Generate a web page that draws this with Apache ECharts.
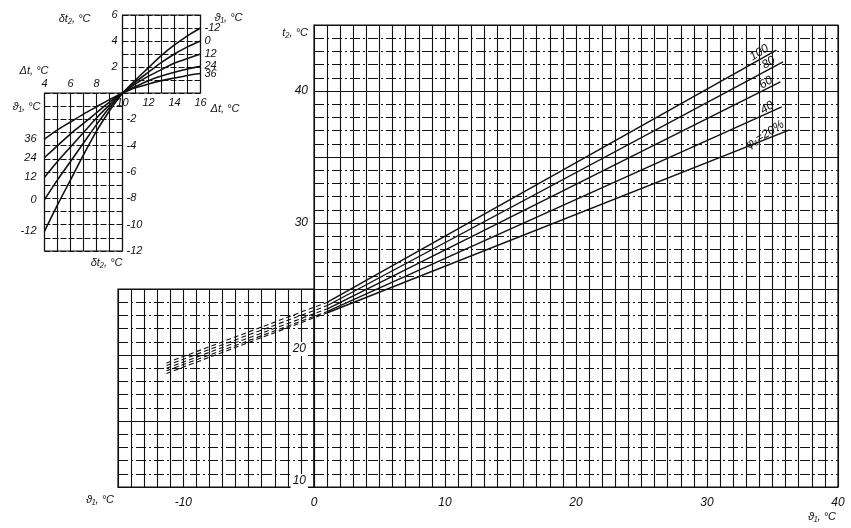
<!DOCTYPE html>
<html>
<head>
<meta charset="utf-8">
<script src="https://cdn.jsdelivr.net/npm/echarts@6/dist/echarts.min.js"></script>
<style>html,body{margin:0;padding:0;background:#fff}#c{width:851px;height:528px}</style>
</head>
<body>
<div id="c"></div>
<script>
// ---- main chart data: t2 vs theta1 for phi1 ----
const phiLabels = ['100', '80', '60', '40', 'φ₁=20%'];
const thetaDashStart = [-11.3, -11.3, -11.3, -11.3, -11.3];
const t2DashStart = [19.4, 19.2, 19.0, 18.8, 18.6];
const thetaBreak = [1.0, 1.0, 1.0, 1.0, 1.0];
const t2Break = [24.0, 23.75, 23.5, 23.3, 23.2];
const thetaEnd = [35.3, 35.8, 35.6, 35.7, 36.3];
const t2End = [43.1, 42.2, 40.7, 38.8, 37.05];
const mainXTicks = [-10, 0, 10, 20, 30, 40];
const mainYTicks = [10, 20, 30, 40];

// ---- inset, upper box: delta t vs Delta t ----
const upperDt = [10, 11, 12, 13, 14, 15, 16];
const upperCurveNames = ['-12', '0', '12', '24', '36'];
const upperM12 = [0, 1.0, 1.95, 2.9, 3.7, 4.4, 5.0];
const upper0 = [0, 0.85, 1.6, 2.35, 3.0, 3.55, 4.0];
const upper12 = [0, 0.7, 1.3, 1.8, 2.3, 2.65, 3.0];
const upper24 = [0, 0.5, 0.95, 1.3, 1.6, 1.85, 2.05];
const upper36 = [0, 0.4, 0.7, 0.95, 1.15, 1.35, 1.5];
const upperXTicks = [10, 12, 14, 16];
const upperYTicks = [2, 4, 6];

// ---- inset, lower box: delta t2 vs Delta t ----
const lowerDt = [4, 5, 6, 7, 8, 9, 10];
const lowerCurveNames = ['-12', '0', '12', '24', '36'];
const lowerM12 = [-10.5, -8.5, -6.6, -4.7, -2.9, -1.35, 0];
const lower0 = [-8.1, -6.6, -5.2, -3.8, -2.4, -1.1, 0];
const lower12 = [-6.4, -5.2, -4.1, -3.0, -1.9, -0.9, 0];
const lower24 = [-4.9, -4.0, -3.1, -2.3, -1.5, -0.7, 0];
const lower36 = [-3.5, -2.8, -2.2, -1.6, -1.05, -0.5, 0];
const lowerXTicks = [4, 6, 8];
const lowerYTicks = [-2, -4, -6, -8, -10, -12];

const FONT = 'Liberation Sans';
const INK = '#111';
const lab = (extra) => Object.assign({color: INK, fontFamily: FONT, fontStyle: 'italic', fontSize: 12}, extra || {});
const gridV = {show: true, lineStyle: {color: INK, width: 1.1, type: 'solid'}};
const noTick = {show: false};
const dashH = [10, 3, 2, 3];

const upperSets = [upperM12, upper0, upper12, upper24, upper36];
const lowerSets = [lowerM12, lower0, lower12, lower24, lower36];
const mainLabelOffsets = [[-6, -1], [-6, -1], [-6, -1], [-6, -1], [-2, -3]];

const series = [];
phiLabels.forEach((p, i) => {
  series.push({
    type: 'line', xAxisIndex: 2, yAxisIndex: 2, showSymbol: false, silent: true,
    lineStyle: {color: INK, width: 1.1, type: [5, 3]},
    data: [[thetaDashStart[i], t2DashStart[i]], [thetaBreak[i], t2Break[i]]]
  });
  series.push({
    type: 'line', xAxisIndex: 2, yAxisIndex: 2, showSymbol: false, silent: true,
    lineStyle: {color: INK, width: 1.4},
    data: [[thetaBreak[i], t2Break[i]], [thetaEnd[i], t2End[i]]],
    endLabel: Object.assign({show: true, formatter: p, rotate: 32, align: 'right', verticalAlign: 'bottom', offset: mainLabelOffsets[i], distance: 0}, lab({fontSize: 12}))
  });
});
upperSets.forEach((arr, i) => {
  series.push({
    type: 'line', xAxisIndex: 3, yAxisIndex: 3, showSymbol: false, smooth: 0.3, silent: true,
    lineStyle: {color: INK, width: 1.6},
    data: upperDt.map((x, k) => [x, arr[k]]),
    endLabel: Object.assign({show: true, formatter: upperCurveNames[i], distance: 4}, lab({fontSize: 11}))
  });
});
lowerSets.forEach((arr, i) => {
  series.push({
    type: 'line', xAxisIndex: 4, yAxisIndex: 5, showSymbol: false, smooth: 0.3, silent: true,
    lineStyle: {color: INK, width: 1.6},
    data: lowerDt.map((x, k) => [x, arr[k]]).reverse(),
    endLabel: Object.assign({show: true, formatter: lowerCurveNames[i], align: 'right', offset: [-8, 0], distance: 0}, lab({fontSize: 11}))
  });
});

const option = {
  animation: false,
  backgroundColor: '#fff',
  grid: [
    {left: 314, top: 25, width: 524, height: 462, show: true, borderColor: INK, borderWidth: 1.2, containLabel: false, outerBoundsMode: 'none'},
    {left: 118, top: 289, width: 196, height: 198, show: true, borderColor: INK, borderWidth: 1.2, containLabel: false, outerBoundsMode: 'none'},
    {left: 118, top: 25, width: 720, height: 462, containLabel: false, outerBoundsMode: 'none'},
    {left: 122.5, top: 15, width: 78, height: 78, show: true, borderColor: INK, borderWidth: 1.2, containLabel: false, outerBoundsMode: 'none'},
    {left: 44.5, top: 93, width: 78, height: 158, show: true, borderColor: INK, borderWidth: 1.2, containLabel: false, outerBoundsMode: 'none'}
  ],
  xAxis: [
    {gridIndex: 0, type: 'value', min: 0, max: 40, interval: 1, axisLine: {lineStyle: {color: INK}}, axisTick: noTick, splitLine: gridV,
      axisLabel: Object.assign({margin: 10, formatter: v => mainXTicks.includes(v) ? String(v) : ''}, lab()),
      name: 'ϑ₁, °C', nameLocation: 'end', nameGap: 0, nameTextStyle: lab({fontSize: 11, align: 'right', verticalAlign: 'top', padding: [24, 2, 0, 0]})},
    {gridIndex: 1, type: 'value', min: -15, max: 0, interval: 1, axisLine: {lineStyle: {color: INK}}, axisTick: noTick, splitLine: gridV,
      axisLabel: Object.assign({margin: 10, formatter: v => (v < 0 && mainXTicks.includes(v)) ? String(v) : ''}, lab()),
      name: 'ϑ₁, °C', nameLocation: 'start', nameGap: 4, nameTextStyle: lab({fontSize: 11, align: 'right', verticalAlign: 'top', padding: [7, 0, 0, 0]})},
    {gridIndex: 2, type: 'value', min: -15, max: 40, show: false},
    {gridIndex: 3, type: 'value', min: 10, max: 16, interval: 1, axisLine: {show: false}, axisTick: noTick, splitLine: gridV,
      axisLabel: Object.assign({margin: 4, formatter: v => upperXTicks.includes(v) ? String(v) : ''}, lab({fontSize: 11})),
      name: 'Δt, °C', nameLocation: 'end', nameGap: 0, nameTextStyle: lab({fontSize: 11, align: 'left', verticalAlign: 'top', padding: [10, 0, 0, 4]})},
    {gridIndex: 4, type: 'value', position: 'top', min: 4, max: 10, interval: 1, axisLine: {show: false}, axisTick: noTick, splitLine: gridV,
      axisLabel: Object.assign({margin: 4, formatter: v => lowerXTicks.includes(v) ? String(v) : ''}, lab({fontSize: 11})),
      name: 'Δt, °C', nameLocation: 'start', nameGap: -4, nameTextStyle: lab({fontSize: 11, align: 'right', verticalAlign: 'bottom', padding: [0, 0, 17, 0]})}
  ],
  yAxis: [
    {gridIndex: 0, type: 'value', min: 10, max: 45, interval: 5, z: 6, axisLine: {lineStyle: {color: INK}}, axisTick: noTick,
      splitLine: {show: true, lineStyle: {color: INK, width: 1.1}},
      minorTick: {show: false, splitNumber: 5},
      minorSplitLine: {show: true, lineStyle: {color: INK, width: 1, type: dashH}},
      axisLabel: Object.assign({margin: 6, formatter: v => !mainYTicks.includes(v) ? '' : (v <= 20 ? '{b|' + v + '}\n{s|}' : String(v)),
        rich: {b: lab({backgroundColor: '#fff', padding: [1, 2, 1, 2]}), s: {height: 12}}}, lab()),
      name: 't₂, °C', nameLocation: 'end', nameGap: -2, nameTextStyle: lab({fontSize: 11, align: 'right', verticalAlign: 'top', padding: [0, 6, 0, 0]})},
    {gridIndex: 1, type: 'value', min: 10, max: 25, interval: 5, axisLine: {show: false}, axisTick: noTick, axisLabel: {show: false},
      splitLine: {show: true, lineStyle: {color: INK, width: 1.1}},
      minorTick: {show: false, splitNumber: 5},
      minorSplitLine: {show: true, lineStyle: {color: INK, width: 1, type: dashH}}},
    {gridIndex: 2, type: 'value', min: 10, max: 45, show: false},
    {gridIndex: 3, type: 'value', min: 0, max: 6, interval: 1, axisLine: {show: false}, axisTick: noTick,
      splitLine: {show: true, lineStyle: {color: INK, width: 1, type: [6, 2]}},
      axisLabel: Object.assign({margin: 5, formatter: v => upperYTicks.includes(v) ? String(v) : ''}, lab({fontSize: 11})),
      name: 'δt₂, °C', nameLocation: 'end', nameGap: -4, nameTextStyle: lab({fontSize: 11, align: 'right', verticalAlign: 'middle', padding: [0, 32, 0, 0]})},
    {gridIndex: 3, type: 'value', position: 'right', min: 0, max: 6, axisLine: {show: false}, axisTick: noTick, axisLabel: {show: false}, splitLine: {show: false},
      name: 'ϑ₁, °C', nameLocation: 'end', nameGap: -3, nameTextStyle: lab({fontSize: 11, align: 'left', verticalAlign: 'middle', padding: [0, 0, 0, 14]})},
    {gridIndex: 4, type: 'value', position: 'right', min: -12, max: 0, interval: 1, axisLine: {show: false}, axisTick: noTick,
      splitLine: {show: true, lineStyle: {color: INK, width: 1, type: [6, 2]}},
      axisLabel: Object.assign({margin: 4, formatter: v => lowerYTicks.includes(v) ? String(v) : ''}, lab({fontSize: 11})),
      name: 'δt₂, °C', nameLocation: 'start', nameGap: 4, nameTextStyle: lab({fontSize: 11, align: 'right', verticalAlign: 'top', padding: [2, 0, 0, 0]})},
    {gridIndex: 4, type: 'value', position: 'left', min: -12, max: 0, axisLine: {show: false}, axisTick: noTick, axisLabel: {show: false}, splitLine: {show: false},
      name: 'ϑ₁, °C', nameLocation: 'end', nameGap: -8, nameTextStyle: lab({fontSize: 11, align: 'right', verticalAlign: 'top', padding: [0, 4, 0, 0]})}
  ],
  series: series
};
const chart = echarts.init(document.getElementById('c'), null, {renderer: 'canvas'});
chart.setOption(option);
</script>
</body>
</html>
